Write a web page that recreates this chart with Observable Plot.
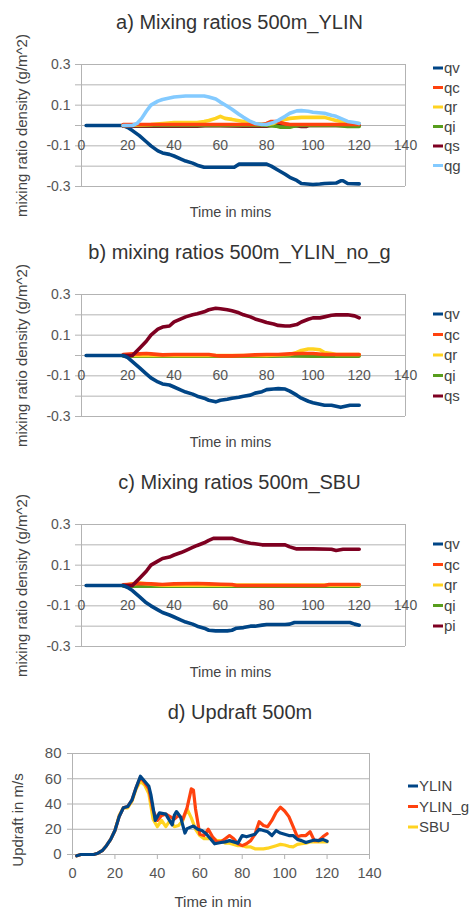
<!DOCTYPE html>
<html><head><meta charset="utf-8">
<script src="https://cdn.jsdelivr.net/npm/d3@7"></script>
<script src="https://cdn.jsdelivr.net/npm/@observablehq/plot@0.6"></script>
<style>body{margin:0;background:#fff}#chart svg{display:block}</style>
</head><body><div id="chart"></div>
<script>
// ---------- shared tick values / labels ----------
const mixGrid = [-0.3, -0.2, -0.1, 0, 0.1, 0.2, 0.3];
const mixLabels = [0.3, 0.1, -0.1, -0.3];
const xTicks = [0, 20, 40, 60, 80, 100, 120, 140];
const updGrid = [0, 20, 40, 60, 80];
const yLabelMix = "mixing ratio density (g/m^2)";
const xLabelMix = "Time in mins";
const titles = ["a) Mixing ratios 500m_YLIN", "b) mixing ratios 500m_YLIN_no_g", "c) Mixing ratios 500m_SBU", "d) Updraft 500m"];

// ---------- panel a ----------
const a_qv_t = [2,18,20,22,25,28,30,33,35,38,40,43,45,48,50,53,66,68,80,82,85,88,90,93,95,100,103,105,110,112,113,115,120];
const a_qv   = [0,0,-0.01,-0.025,-0.05,-0.08,-0.1,-0.125,-0.135,-0.142,-0.15,-0.165,-0.175,-0.185,-0.195,-0.205,-0.205,-0.19,-0.19,-0.2,-0.22,-0.24,-0.255,-0.27,-0.285,-0.29,-0.288,-0.285,-0.283,-0.272,-0.272,-0.285,-0.287];
const a_qc_t = [18,25,40,60,78,80,82,84,86,88,90,100,110,120];
const a_qc   = [0.005,0.005,0.005,0.005,0.005,0.01,0.02,0.02,0.015,0.008,0.005,0.005,0.005,0.005];
const a_qr_t = [18,30,35,40,45,50,53,55,58,60,62,65,70,75,80,83,85,88,90,95,100,105,110,115,120];
const a_qr   = [0,0.005,0.01,0.015,0.015,0.015,0.02,0.025,0.035,0.045,0.035,0.03,0.02,0.01,0.005,0.01,0.02,0.03,0.035,0.04,0.04,0.04,0.025,0.015,0.01];
const a_qi_t = [18,40,60,70,80,84,86,90,92,94,100,110,115,120];
const a_qi   = [0,0,0,0,0,-0.003,-0.008,-0.008,-0.003,0,0,0,-0.005,-0.005];
const a_qs_t = [18,50,55,70,80,85,90,95,97,98,100,110,120];
const a_qs   = [-0.003,-0.003,0,-0.003,-0.003,0.008,0.003,-0.005,-0.005,0,0,0,0];
const a_qg_t = [18,22,24,26,28,30,33,35,40,45,50,53,55,58,60,63,65,68,70,73,75,78,80,83,85,88,90,93,95,98,100,105,108,110,113,115,118,120];
const a_qg   = [0,0,0.01,0.035,0.07,0.1,0.12,0.128,0.14,0.145,0.145,0.145,0.14,0.13,0.115,0.095,0.08,0.055,0.04,0.02,0.01,0.005,0.005,0.015,0.025,0.045,0.06,0.072,0.073,0.07,0.065,0.06,0.05,0.045,0.03,0.02,0.015,0.01];

// ---------- panel b ----------
const b_qv_t = [2,18,20,22,25,28,30,33,35,38,40,43,45,48,50,53,55,58,60,63,65,68,70,73,75,78,80,83,85,88,90,93,95,98,100,103,105,108,110,112,114,116,120];
const b_qv   = [0,0,-0.01,-0.03,-0.06,-0.09,-0.11,-0.13,-0.14,-0.145,-0.155,-0.17,-0.18,-0.19,-0.2,-0.21,-0.22,-0.228,-0.22,-0.215,-0.21,-0.205,-0.2,-0.195,-0.185,-0.178,-0.168,-0.165,-0.163,-0.165,-0.175,-0.195,-0.21,-0.225,-0.232,-0.24,-0.245,-0.245,-0.25,-0.255,-0.25,-0.245,-0.245];
const b_qc_t = [18,22,25,28,30,35,40,50,55,58,60,65,70,75,80,85,90,95,100,105,110,120];
const b_qc   = [0.005,0.008,0.008,0.01,0.008,0.003,0.005,0.005,0.005,0,-0.002,-0.002,0,0.003,0.005,0.005,0.008,0.01,0.01,0.005,0.005,0.005];
const b_qr_t = [18,80,90,93,95,98,100,103,105,108,110,120];
const b_qr   = [0,0,0.005,0.015,0.025,0.032,0.032,0.028,0.015,0.01,0.005,0.005];
const b_qi_t = [18,40,60,80,90,100,120];
const b_qi   = [-0.003,-0.003,-0.003,-0.003,-0.002,-0.003,-0.003];
const b_qs_t = [18,22,25,28,30,33,35,38,40,43,45,48,50,53,55,58,60,63,65,68,70,73,75,78,80,83,85,88,90,93,95,98,100,103,105,108,110,113,115,118,120];
const b_qs   = [0,0,0.035,0.07,0.1,0.13,0.14,0.145,0.165,0.18,0.19,0.2,0.205,0.215,0.225,0.232,0.23,0.225,0.22,0.21,0.2,0.19,0.18,0.17,0.162,0.155,0.148,0.145,0.145,0.152,0.165,0.178,0.185,0.185,0.19,0.198,0.2,0.2,0.2,0.195,0.185];

// ---------- panel c ----------
const c_qv_t = [2,18,20,22,25,28,30,33,35,38,40,43,45,48,50,53,55,58,63,65,67,70,73,75,78,80,88,90,92,100,110,116,118,120];
const c_qv   = [0,0,-0.01,-0.025,-0.055,-0.085,-0.1,-0.12,-0.133,-0.145,-0.155,-0.17,-0.18,-0.19,-0.2,-0.21,-0.22,-0.223,-0.223,-0.22,-0.21,-0.207,-0.2,-0.2,-0.195,-0.192,-0.192,-0.19,-0.182,-0.182,-0.182,-0.182,-0.19,-0.195];
const c_qc_t = [18,20,25,30,35,40,50,55,60,65,67,80,100,105,107,110,120];
const c_qc   = [0.003,0.005,0.01,0.008,0.005,0.008,0.01,0.008,0.006,0.005,0,0,0,0,0.005,0.005,0.005];
const c_qr_t = [18,22,25,30,35,120];
const c_qr   = [0,0.008,0.012,0.006,0.002,0.002];
const c_qi_t = [18,40,60,80,100,120];
const c_qi   = [-0.003,-0.003,-0.003,-0.003,-0.003,-0.003];
const c_pi_t = [18,22,25,28,30,33,35,38,40,43,45,48,50,53,55,57,60,65,67,70,73,75,78,80,88,90,93,100,108,110,113,120];
const c_pi   = [0,0,0.035,0.07,0.1,0.12,0.133,0.14,0.15,0.162,0.172,0.187,0.197,0.21,0.222,0.232,0.232,0.232,0.225,0.215,0.208,0.205,0.2,0.2,0.2,0.19,0.18,0.18,0.178,0.172,0.178,0.178];

// ---------- panel d (updraft) ----------
const d_ylin_t = [2,4,6,8,10,12,14,16,18,20,22,24,26,28,30,32,34,36,37,39,40,41,44,45,47,48,49,51,52,53,54,57,59,61,63,65,67,70,72,74,76,78,80,82,84,86,88,90,92,94,96,98,100,102,104,106,108,110,112,114,116,118,120];
const d_ylin   = [-1,0,0,0,0,1,3,7,12,19,30,37,38,43,53,62,58,54,47,27,30,33,32,29,23.5,31,34,29.5,23,17,20.5,22.5,20,19,16.5,12.5,8.5,9.5,10,11,10,9,15,14,15,16,20,19,18,15,19,17,16,15,15,12,11,9.5,10.5,11.5,11,12,10.5];
const d_g_t    = [2,4,6,8,10,12,14,16,18,20,22,24,26,28,30,32,34,36,38,40,42,44,46,48,50,52,54,56,57,58,60,62,64,66,68,70,72,74,76,78,80,82,84,86,88,90,92,94,96,98,100,102,104,106,108,110,112,114,116,118,120];
const d_g      = [-1,0,0,0,0,1,3,7,12,19,30,37,38,43,53,61,57,52,35,27,31,32,30,28,31,28,37,52,51,36,16,15,20,14,10,10,12.5,15,12.5,8.5,7,8.5,11,16,26,23,22,27,33.5,37.5,34.5,30,22,14,15,15,18,11,11,14,16.5];
const d_sbu_t  = [2,4,6,8,10,12,14,16,18,20,22,24,26,28,30,32,34,36,38,40,42,44,46,48,50,52,54,56,58,60,62,64,66,68,70,72,74,76,78,80,82,84,86,88,90,92,94,96,98,100,102,104,106,108,110,112,114,116,118,120];
const d_sbu    = [-1,0,0,0,0,1,3,7,12,19,31,37,37,42,52,58,55,48,28,22,27,22,27,22,23,27,36,29,20,15,12.5,12.5,13.5,11,11,9,9,8,7,7,6,6,4.5,4.5,4.5,5,6,7,8,7.5,6.5,6,8,8.5,9,10,10,10,10,10];

// ---------- colours ----------
const C = {qv:"#004586", qc:"#ff420e", qr:"#ffd320", qi:"#579d1c", qs:"#7e0021", qg:"#83caff"};

const FONT = "'Liberation Sans', Arial, sans-serif";
const GRID = "#b3b3b3";
const TXT = "#444";
const TICK = "#555";

function pts(t, v) { return t.map((x, i) => ({t: x, v: v[i]})); }

function addLegend(svg, items, x0, y0, step) {
  const g = d3.select(svg).append("g").attr("font-family", FONT).attr("font-size", 15)
    .attr("text-anchor", "start");
  items.forEach((it, i) => {
    const y = y0 + i * step;
    g.append("line").attr("x1", x0).attr("x2", x0 + 10).attr("y1", y).attr("y2", y)
      .attr("stroke", it.color).attr("stroke-width", 3);
    g.append("text").attr("x", x0 + 11).attr("y", y).attr("dy", "0.35em")
      .attr("text-anchor", "start").attr("fill", TXT).text(it.name);
  });
}

function mixPanel(title, H, draw, legend, legY0, legStep) {
  const svg = Plot.plot({
    width: 476, height: H,
    marginLeft: 81, marginRight: 71, marginTop: 64, marginBottom: H - 186,
    x: {domain: [0, 140], axis: null},
    y: {domain: [-0.3, 0.3], axis: null},
    style: {fontFamily: FONT, fontSize: "14px", color: TXT, background: "#fff"},
    marks: [
      Plot.gridY({ticks: mixGrid, stroke: GRID, strokeOpacity: 1}),
      Plot.ruleX([0, 140], {stroke: GRID}),
      Plot.axisY({ticks: mixGrid, tickSize: 6, tickPadding: 5, stroke: GRID, strokeOpacity: 1, fill: TICK, fontSize: 14,
        tickFormat: d => mixLabels.includes(d) ? String(d) : "", label: null}),
      Plot.text(xTicks, {x: d => d, y: () => 0, dy: 20, text: d => String(d), fill: TICK, fontSize: 14}),
      ...draw.map(s => Plot.line(pts(s.t, s.v), {x: "t", y: "v", stroke: s.color, strokeWidth: 3.6})),
      Plot.text([title], {frameAnchor: "top", lineAnchor: "middle", dx: -4, dy: -42, text: d => d, fontSize: 20, fill: "#333"}),
      Plot.text([yLabelMix], {frameAnchor: "left", textAnchor: "middle", lineAnchor: "middle", dx: -59, rotate: -90, text: d => d, fontSize: 15, fill: TXT}),
      Plot.text([xLabelMix], {frameAnchor: "bottom", lineAnchor: "middle", dx: -13, dy: 26, text: d => d, fontSize: 14.5, fill: TXT})
    ]
  });
  addLegend(svg, legend, 433, legY0, legStep);
  return svg;
}

const chart = document.getElementById("chart");

chart.appendChild(mixPanel(titles[0], 230,
  [{t:a_qv_t,v:a_qv,color:C.qv},{t:a_qs_t,v:a_qs,color:C.qs},{t:a_qi_t,v:a_qi,color:C.qi},
   {t:a_qr_t,v:a_qr,color:C.qr},{t:a_qc_t,v:a_qc,color:C.qc},{t:a_qg_t,v:a_qg,color:C.qg}],
  [{name:"qv",color:C.qv},{name:"qc",color:C.qc},{name:"qr",color:C.qr},{name:"qi",color:C.qi},{name:"qs",color:C.qs},{name:"qg",color:C.qg}],
  68, 19.5));

chart.appendChild(mixPanel(titles[1], 230,
  [{t:b_qi_t,v:b_qi,color:C.qi},{t:b_qr_t,v:b_qr,color:C.qr},{t:b_qc_t,v:b_qc,color:C.qc},
   {t:b_qs_t,v:b_qs,color:C.qs},{t:b_qv_t,v:b_qv,color:C.qv}],
  [{name:"qv",color:C.qv},{name:"qc",color:C.qc},{name:"qr",color:C.qr},{name:"qi",color:C.qi},{name:"qs",color:C.qs}],
  84, 20.5));

chart.appendChild(mixPanel(titles[2], 228,
  [{t:c_qi_t,v:c_qi,color:C.qi},{t:c_qr_t,v:c_qr,color:C.qr},{t:c_qc_t,v:c_qc,color:C.qc},
   {t:c_pi_t,v:c_pi,color:C.qs},{t:c_qv_t,v:c_qv,color:C.qv}],
  [{name:"qv",color:C.qv},{name:"qc",color:C.qc},{name:"qr",color:C.qr},{name:"qi",color:C.qi},{name:"pi",color:C.qs}],
  84, 20.5));

// panel d
const dH = 221;
const dSvg = Plot.plot({
  width: 476, height: dH,
  marginLeft: 72, marginRight: 107, marginTop: 65, marginBottom: 55,
  x: {domain: [0, 140]},
  y: {domain: [0, 80]},
  style: {fontFamily: FONT, fontSize: "14px", color: TXT, background: "#fff"},
  marks: [
    Plot.gridY({ticks: updGrid, stroke: GRID, strokeOpacity: 1}),
    Plot.ruleX([0, 140], {stroke: GRID}),
    Plot.axisY({ticks: updGrid, tickSize: 5, tickPadding: 6, stroke: GRID, strokeOpacity: 1, fill: TICK, fontSize: 15,
      tickFormat: d => String(d), label: null}),
    Plot.axisX({ticks: xTicks, tickSize: 5, tickPadding: 8, stroke: GRID, strokeOpacity: 1, fill: TICK, fontSize: 14.5,
      tickFormat: d => String(d), label: null}),
    Plot.line(pts(d_sbu_t, d_sbu), {x: "t", y: "v", stroke: C.qr, strokeWidth: 3.2}),
    Plot.line(pts(d_g_t, d_g), {x: "t", y: "v", stroke: C.qc, strokeWidth: 3.2}),
    Plot.line(pts(d_ylin_t, d_ylin), {x: "t", y: "v", stroke: C.qv, strokeWidth: 3.2}),
    Plot.text([titles[3]], {frameAnchor: "top", lineAnchor: "middle", dx: 19, dy: -41, text: d => d, fontSize: 20, fill: "#333"}),
    Plot.text(["Updraft in m/s"], {frameAnchor: "left", textAnchor: "middle", lineAnchor: "middle", dx: -54, dy: 16, rotate: -90, text: d => d, fontSize: 15, fill: TXT}),
    Plot.text(["Time in min"], {frameAnchor: "bottom", lineAnchor: "middle", dx: -8, dy: 48, text: d => d, fontSize: 15, fill: TXT})
  ]
});
addLegend(dSvg, [{name:"YLIN",color:C.qv},{name:"YLIN_g",color:C.qc},{name:"SBU",color:C.qr}], 408, 98, 20.5);
chart.appendChild(dSvg);
</script></body></html>
